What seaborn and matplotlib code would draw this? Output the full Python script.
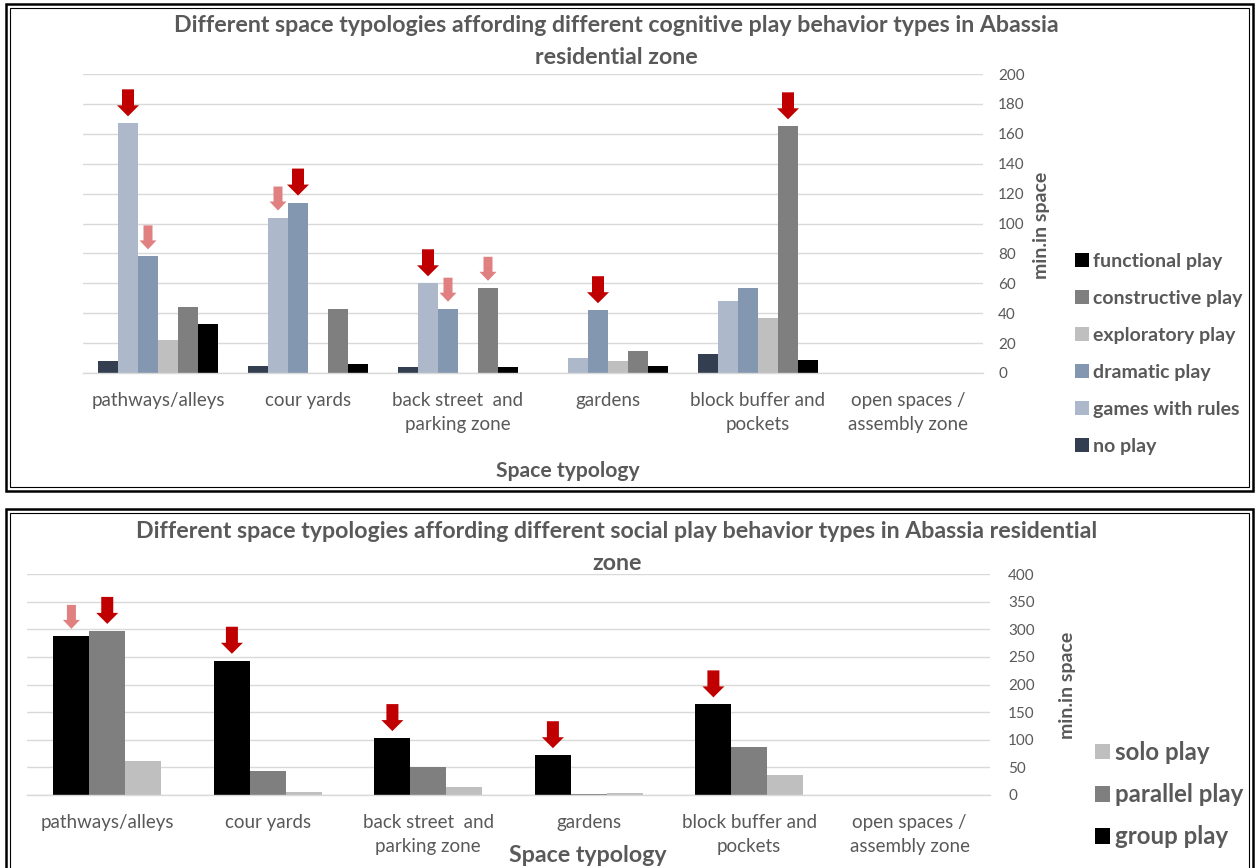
import matplotlib
matplotlib.use('Agg')
import matplotlib.pyplot as plt
import matplotlib.transforms as mtransforms
from matplotlib.patches import Patch, Polygon, Rectangle
import seaborn as sns
import pandas as pd

W, H = 1256, 868

spaces = ['pathways/alleys', 'cour yards', 'back street  and\nparking zone', 'gardens',
          'block buffer and\npockets', 'open spaces /\nassembly zone']

# cognitive play (top chart), bar order left to right
cog_types = ['no play', 'games with rules', 'dramatic play', 'exploratory play',
             'constructive play', 'functional play']
no_play = [8, 5, 4, 0, 13, 0]
games_with_rules = [167, 104, 60, 10, 48, 0]
dramatic_play = [78, 114, 43, 42, 57, 0]
exploratory_play = [22, 0, 0, 8, 37, 0]
constructive_play = [44, 43, 57, 15, 165, 0]
functional_play = [33, 6, 4, 5, 9, 0]
cog_colors = ['#333F50', '#ADB9CA', '#8497B0', '#BFBFBF', '#7F7F7F', '#000000']

# social play (bottom chart)
soc_types = ['group play', 'parallel play', 'solo play']
group_play = [288, 243, 103, 72, 164, 0]
parallel_play = [297, 44, 50, 1, 87, 0]
solo_play = [61, 5, 15, 4, 36, 0]
soc_colors = ['#000000', '#7F7F7F', '#BFBFBF']

# red arrows: (space index, play type, strong)
cog_arrows = [(0, 'games with rules', True), (0, 'dramatic play', False),
              (1, 'games with rules', False), (1, 'dramatic play', True),
              (2, 'games with rules', True), (2, 'dramatic play', False),
              (2, 'constructive play', False), (3, 'dramatic play', True),
              (4, 'constructive play', True)]
soc_arrows = [(0, 'group play', False), (0, 'parallel play', True),
              (1, 'group play', True), (2, 'group play', True),
              (3, 'group play', True), (4, 'group play', True)]

cog_df = pd.DataFrame({
    'space': spaces * len(cog_types),
    'type': [t for t in cog_types for _ in spaces],
    'minutes': no_play + games_with_rules + dramatic_play + exploratory_play
               + constructive_play + functional_play,
})
soc_df = pd.DataFrame({
    'space': spaces * len(soc_types),
    'type': [t for t in soc_types for _ in spaces],
    'minutes': group_play + parallel_play + solo_play,
})

sns.set_theme(style='white')
plt.rcParams['font.family'] = ['Lato', 'DejaVu Sans']
TXT = '#595959'
GRID = '#D9D9D9'

fig = plt.figure(figsize=(W / 100, H / 100), dpi=100)
fig.patch.set_facecolor('white')


def ax_rect(x0, y0, x1, y1):
    return [x0 / W, 1 - y1 / H, (x1 - x0) / W, (y1 - y0) / H]


def frame(y0, y1):
    for inset, lw in [(0, 1.8), (4, 0.8)]:
        fig.add_artist(Rectangle(((6 + inset) / W, 1 - (y1 - inset) / H),
                                 (1247 - 2 * inset) / W, (y1 - y0 - 2 * inset) / H,
                                 transform=fig.transFigure, fill=False, lw=lw, ec='black'))


def title(lines, x, y0, dy):
    for i, line in enumerate(lines):
        fig.text(x / W, 1 - (y0 + i * dy) / H, line, ha='center', va='center',
                 fontsize=16.7, fontweight='bold', color=TXT)


def add_arrow(ax, bar, strong):
    x = bar.get_x() + bar.get_width() / 2
    y = bar.get_height()
    if strong:
        sw, hw, tot, hl, col = 12, 22, 27, 11, '#C00000'
    else:
        sw, hw, tot, hl, col = 9, 17, 24, 9, '#E08080'
    g = 7
    pts = [(-sw / 2, g + tot), (sw / 2, g + tot), (sw / 2, g + hl), (hw / 2, g + hl),
           (0, g), (-hw / 2, g + hl), (-sw / 2, g + hl)]
    pts = [(px / 100, py / 100) for px, py in pts]
    tr = fig.dpi_scale_trans + mtransforms.ScaledTranslation(x, y, ax.transData)
    fig.add_artist(Polygon(pts, closed=True, transform=tr, fc=col, ec='none', zorder=5))


def style_axes(ax, ymax, step, tick_pad):
    ax.set_ylim(0, ymax)
    ax.set_yticks(range(0, ymax + 1, step))
    ax.yaxis.tick_right()
    ax.grid(axis='y', color=GRID, lw=1)
    ax.set_axisbelow(True)
    for s in ['top', 'left', 'right']:
        ax.spines[s].set_visible(False)
    ax.spines['bottom'].set_color(GRID)
    ax.spines['bottom'].set_linewidth(1)
    ax.tick_params(axis='y', length=0, pad=tick_pad, labelsize=11, labelcolor=TXT)
    ax.tick_params(axis='x', length=0, pad=14, labelsize=13.5, labelcolor=TXT)
    for lab in ax.get_xticklabels():
        lab.set_linespacing(1.45)
    ax.set_xlabel('')
    ax.set_ylabel('')


# ---------------- top chart ----------------
frame(4, 491)
ax1 = fig.add_axes(ax_rect(83, 74, 983, 373))
sns.barplot(data=cog_df, x='space', y='minutes', hue='type', order=spaces,
            hue_order=cog_types, palette=dict(zip(cog_types, cog_colors)),
            width=0.8, gap=0, saturation=1, errorbar=None, linewidth=0,
            legend=False, ax=ax1)
style_axes(ax1, 200, 20, 11)
for si, t, strong in cog_arrows:
    add_arrow(ax1, ax1.containers[cog_types.index(t)][si], strong)

title(['Different space typologies affording different cognitive play behavior types in Abassia',
       'residential zone'], 616, 26, 31)
fig.text(568 / W, 1 - 471 / H, 'Space typology', ha='center', va='center',
         fontsize=15.2, fontweight='bold', color=TXT)
fig.text(1042 / W, 1 - 225 / H, 'min.in space', ha='center', va='center', rotation=90,
         fontsize=14, fontweight='bold', color=TXT)

h1 = [Patch(fc=c, ec='none') for c in cog_colors][::-1]
leg1 = fig.legend(h1, cog_types[::-1], loc='upper left',
                  bbox_to_anchor=(1075 / W, 1 - 253 / H), bbox_transform=fig.transFigure,
                  frameon=False, handlelength=0.72, handleheight=0.72, handletextpad=0.2,
                  labelspacing=1.03, borderpad=0, borderaxespad=0,
                  prop={'size': 14, 'weight': 'bold'})
for t in leg1.get_texts():
    t.set_color(TXT)

# ---------------- bottom chart ----------------
frame(509, 880)
ax2 = fig.add_axes(ax_rect(27, 574, 990, 795))
sns.barplot(data=soc_df, x='space', y='minutes', hue='type', order=spaces,
            hue_order=soc_types, palette=dict(zip(soc_types, soc_colors)),
            width=0.67, gap=0, saturation=1, errorbar=None, linewidth=0,
            legend=False, ax=ax2)
style_axes(ax2, 400, 50, 13)
for si, t, strong in soc_arrows:
    add_arrow(ax2, ax2.containers[soc_types.index(t)][si], strong)

title(['Different space typologies affording different social play behavior types in Abassia residential',
       'zone'], 617, 532, 31)
fig.text(588 / W, 1 - 855 / H, 'Space typology', ha='center', va='center',
         fontsize=16.7, fontweight='bold', color=TXT)
fig.text(1068 / W, 1 - 685 / H, 'min.in space', ha='center', va='center', rotation=90,
         fontsize=14, fontweight='bold', color=TXT)

h2 = [Patch(fc=c, ec='none') for c in soc_colors][::-1]
leg2 = fig.legend(h2, soc_types[::-1], loc='upper left',
                  bbox_to_anchor=(1095 / W, 1 - 741 / H), bbox_transform=fig.transFigure,
                  frameon=False, handlelength=0.62, handleheight=0.62, handletextpad=0.2,
                  labelspacing=0.8, borderpad=0, borderaxespad=0,
                  prop={'size': 17.3, 'weight': 'bold'})
for t in leg2.get_texts():
    t.set_color(TXT)

fig.savefig('out.png', dpi=100)
